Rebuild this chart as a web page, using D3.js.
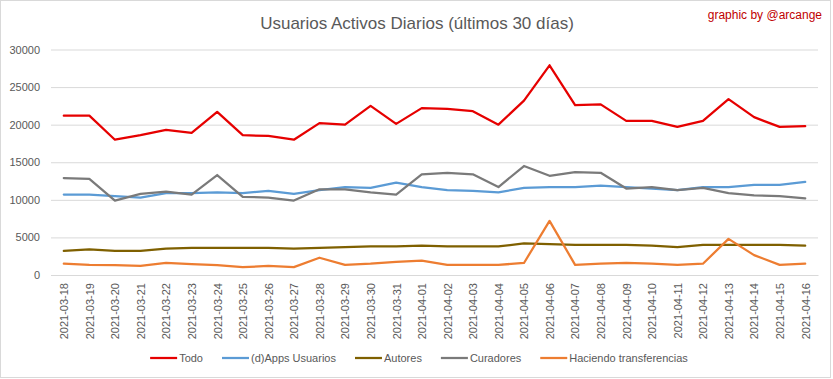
<!DOCTYPE html>
<html>
<head>
<meta charset="utf-8">
<script src="https://cdn.jsdelivr.net/npm/d3@7"></script>
<style>
  html, body { margin: 0; padding: 0; background: #fff; }
  svg { display: block; font-family: "Liberation Sans", Arial, sans-serif; }
</style>
</head>
<body>
<svg id="chart" width="833" height="379"></svg>
<script>
const dates = ["2021-03-18","2021-03-19","2021-03-20","2021-03-21","2021-03-22","2021-03-23","2021-03-24","2021-03-25","2021-03-26","2021-03-27","2021-03-28","2021-03-29","2021-03-30","2021-03-31","2021-04-01","2021-04-02","2021-04-03","2021-04-04","2021-04-05","2021-04-06","2021-04-07","2021-04-08","2021-04-09","2021-04-10","2021-04-11","2021-04-12","2021-04-13","2021-04-14","2021-04-15","2021-04-16"];

const todo = [21200,21200,18000,18600,19300,18900,21700,18600,18500,18000,20200,20000,22500,20100,22200,22100,21800,20000,23200,27900,22600,22700,20500,20500,19700,20500,23400,21000,19700,19800];
const dapps = [10700,10700,10500,10300,10900,10900,11000,10900,11200,10800,11300,11700,11600,12300,11700,11300,11200,11000,11600,11700,11700,11900,11700,11500,11300,11700,11700,12000,12000,12400];
const autores = [3200,3400,3200,3200,3500,3600,3600,3600,3600,3500,3600,3700,3800,3800,3900,3800,3800,3800,4200,4100,4000,4000,4000,3900,3700,4000,4000,4000,4000,3900];
const curadores = [12900,12800,9900,10800,11100,10700,13300,10400,10300,9900,11400,11400,11000,10700,13400,13600,13400,11700,14500,13200,13700,13600,11500,11700,11300,11600,10900,10600,10500,10200];
const transferencias = [1500,1350,1300,1200,1600,1450,1300,1050,1200,1050,2300,1350,1500,1750,1900,1350,1350,1350,1600,7200,1350,1500,1600,1500,1350,1500,4800,2650,1350,1500];

const yTicks = [0,5000,10000,15000,20000,25000,30000];
const seriesNames = ["Todo","(d)Apps Usuarios","Autores","Curadores","Haciendo transferencias"];
const seriesValues = [todo, dapps, autores, curadores, transferencias];
const seriesColors = ["#e60000","#5b9bd5","#7f6000","#7a7a7a","#ed7d31"];
const titleText = "Usuarios Activos Diarios (últimos 30 días)";
const creditText = "graphic by @arcange";

const svg = d3.select("#chart");
const W = 833, H = 379;
const plot = {left: 51, right: 818, top: 49.5, bottom: 275};

// frame
svg.append("rect").attr("x",0.5).attr("y",0.5).attr("width",830).attr("height",377)
  .attr("fill","#fff").attr("stroke","#d9d9d9");

const x = d3.scalePoint().domain(dates).range([plot.left, plot.right]).padding(0.5);
const y = d3.scaleLinear().domain([0,30000]).range([plot.bottom, plot.top]);

// gridlines + y labels
const yAxis = d3.axisLeft(y).tickValues(yTicks).tickSize(-(plot.right-plot.left)).tickPadding(11).tickFormat(d3.format("d"));
const yg = svg.append("g").attr("transform",`translate(${plot.left},0)`).call(yAxis);
yg.select(".domain").remove();
yg.selectAll(".tick line").attr("stroke","#d9d9d9").attr("stroke-width",1);
yg.selectAll(".tick text").attr("fill","#595959").attr("font-size","11px")
  .attr("font-family",'"Liberation Sans", Arial, sans-serif');

// x labels
const xAxis = d3.axisBottom(x).tickSize(0).tickPadding(0);
const xg = svg.append("g").attr("transform",`translate(0,${plot.bottom})`).call(xAxis);
xg.select(".domain").attr("stroke","#d9d9d9");
xg.selectAll(".tick text")
  .attr("fill","#595959").attr("font-size","11px")
  .attr("font-family",'"Liberation Sans", Arial, sans-serif')
  .attr("text-anchor","end")
  .attr("transform","rotate(-90)")
  .attr("x",-8).attr("y",0).attr("dy","0.35em");

// lines
const line = d3.line().x((d,i)=>x(dates[i])).y(d=>y(d));
seriesValues.forEach((vals,k)=>{
  svg.append("path").datum(vals)
    .attr("fill","none").attr("stroke",seriesColors[k])
    .attr("stroke-width",2.25).attr("stroke-linejoin","round").attr("stroke-linecap","round")
    .attr("d",line);
});

// title
svg.append("text").attr("x",417).attr("y",29).attr("text-anchor","middle")
  .attr("font-size","17px").attr("fill","#595959").text(titleText);
svg.append("text").attr("x",822).attr("y",19).attr("text-anchor","end")
  .attr("font-size","12px").attr("fill","#c00000").text(creditText);

// legend
const lg = svg.append("g");
const swatch = 27, gapText = 2, gapItem = 19, legY = 358;
let cx = 0;
const items = [];
seriesNames.forEach((name,k)=>{
  const g = lg.append("g");
  g.append("line").attr("x1",0).attr("x2",swatch).attr("y1",0).attr("y2",0)
    .attr("stroke",seriesColors[k]).attr("stroke-width",2.25);
  const t = g.append("text").attr("x",swatch+gapText).attr("y",0).attr("dy","0.35em")
    .attr("font-size","11px").attr("fill","#595959").text(name);
  const w = t.node().getComputedTextLength();
  items.push({g, w});
});
let total = items.reduce((s,it)=>s+swatch+gapText+it.w,0) + gapItem*(items.length-1);
let start = 419 - total/2;
items.forEach(it=>{
  it.g.attr("transform",`translate(${start},${legY})`);
  start += swatch+gapText+it.w+gapItem;
});
</script>
</body>
</html>
